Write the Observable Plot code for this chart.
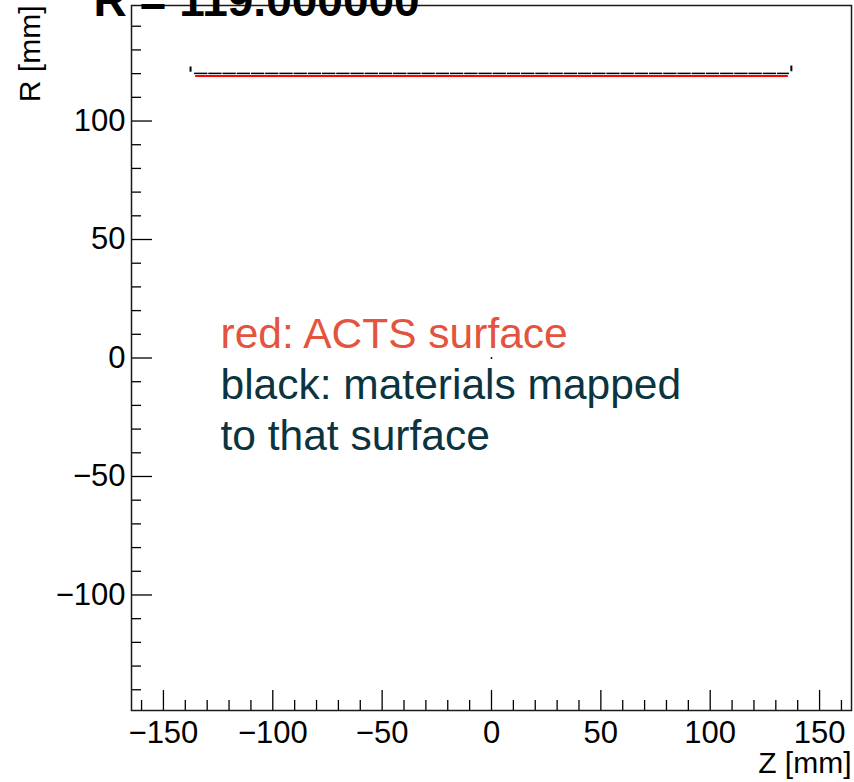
<!DOCTYPE html>
<html><head><meta charset="utf-8">
<script src="https://cdn.jsdelivr.net/npm/d3@7"></script>
<script src="https://cdn.jsdelivr.net/npm/@observablehq/plot@0.6"></script>
<style>body{margin:0;background:#fff;}</style>
</head><body><div id="chart"></div>
<script>
const title = "R = 119.000000";
const xLabel = "Z [mm]";
const yLabel = "R [mm]";
const legendLines = ["red: ACTS surface", "black: materials mapped", "to that surface"];

const xMajor = [-150, -100, -50, 0, 50, 100, 150];
const xMinor = [-160, -140, -130, -120, -110, -90, -80, -70, -60, -40, -30, -20, -10,
                10, 20, 30, 40, 60, 70, 80, 90, 110, 120, 130, 140, 160];
const yMajor = [-100, -50, 0, 50, 100];
const yMinor = [-140, -130, -120, -110, -90, -80, -70, -60, -40, -30, -20, -10,
                10, 20, 30, 40, 60, 70, 80, 90, 110, 120, 130, 140];

// ACTS surface (red): cylinder at R = 119
const surfaceZ = [-135.5, 135.5];
const surfaceR = [119, 119];

// mapped material (black): short segments along the surface
const matZ1 = [-136, -129.5, -123, -116.5, -110, -103.5, -97, -90.5, -84, -77.5, -71, -64.5, -58, -51.5, -45, -38.5, -32, -25.5, -19, -12.5, -6, 0.5, 7, 13.5, 20, 26.5, 33, 39.5, 46, 52.5, 59, 65.5, 72, 78.5, 85, 91.5, 98, 104.5, 111, 117.5, 124, 130.5];
const matZ2 = [-129.9, -123.4, -116.9, -110.4, -103.9, -97.4, -90.9, -84.4, -77.9, -71.4, -64.9, -58.4, -51.9, -45.4, -38.9, -32.4, -25.9, -19.4, -12.9, -6.4, 0.1, 6.6, 13.1, 19.6, 26.1, 32.6, 39.1, 45.6, 52.1, 58.6, 65.1, 71.6, 78.1, 84.6, 91.1, 97.6, 104.1, 110.6, 117.1, 123.6, 130.1, 136];
const matR = 120.1;
// isolated mapped points at the edges
const edgeZ = [-137.6, 137.1];
const edgeR1 = [120.6, 120.8];
const edgeR2 = [122.8, 123.2];
// stray point at the origin
const strayZ = [0];
const strayR = [0];

const segs = matZ1.map((z, i) => ({z1: z, z2: matZ2[i], r: matR}));
const edges = edgeZ.map((z, i) => ({z, r1: edgeR1[i], r2: edgeR2[i]}));
const surf = [{z1: surfaceZ[0], z2: surfaceZ[1], r: surfaceR[0]}];
const stray = strayZ.map((z, i) => ({z, r: strayR[i]}));

const font = "'Liberation Sans', Arial, Helvetica, sans-serif";
const fmt = d3.format("d");

const chart = Plot.plot({
  width: 854,
  height: 782,
  marginLeft: 131,
  marginRight: 3,
  marginTop: 5,
  marginBottom: 72,
  style: {fontFamily: font, background: "white", color: "black", overflow: "visible"},
  x: {domain: [-164.6, 164.6]},
  y: {domain: [-148.75, 148.75]},
  marks: [
    // ticks
    Plot.axisX({ticks: xMajor, tickSize: -20, tickFormat: () => "", label: null, strokeWidth: 1.3}),
    Plot.axisX({ticks: xMinor, tickSize: -10, tickFormat: () => "", label: null, strokeWidth: 1.3}),
    Plot.axisX({ticks: xMajor, tickSize: 0, tickPadding: 10, tickFormat: fmt, fontSize: 31, label: null}),
    Plot.axisY({ticks: yMajor, tickSize: -21, tickFormat: () => "", label: null, strokeWidth: 1.3}),
    Plot.axisY({ticks: yMinor, tickSize: -10, tickFormat: () => "", label: null, strokeWidth: 1.3}),
    Plot.axisY({ticks: yMajor, tickSize: 0, tickPadding: 6, tickFormat: fmt, fontSize: 31, label: null}),
    // data
    Plot.link(surf, {x1: "z1", x2: "z2", y1: "r", y2: "r", stroke: "#ff0000", strokeWidth: 2}),
    Plot.link(segs, {x1: "z1", x2: "z2", y1: "r", y2: "r", stroke: "black", strokeWidth: 1.5}),
    Plot.ruleX(edges, {x: "z", y1: "r1", y2: "r2", stroke: "black", strokeWidth: 2}),
    Plot.dot(stray, {x: "z", y: "r", r: 0.9, fill: "black"}),
    Plot.frame({stroke: "#1a1a1a", strokeWidth: 1.5}),
    // labels
    Plot.text([title], {frameAnchor: "top-left", dx: -38, dy: 10, text: d => d, textAnchor: "start", lineAnchor: "bottom", fontSize: 46, fontWeight: "bold", fill: "black"}),
    Plot.text([xLabel], {frameAnchor: "bottom-right", dx: 0, dy: 62, text: d => d, textAnchor: "end", lineAnchor: "bottom", fontSize: 30, fill: "black"}),
    Plot.text([yLabel], {frameAnchor: "top-left", dx: -92, dy: 0, rotate: -90, text: d => d, textAnchor: "end", lineAnchor: "bottom", fontSize: 30, fill: "black"}),
    Plot.text([legendLines[0]], {frameAnchor: "top-left", dx: 89, dy: 342, text: d => d, textAnchor: "start", lineAnchor: "bottom", fontSize: 42.5, fill: "#e4533d"}),
    Plot.text([legendLines[1]], {frameAnchor: "top-left", dx: 89, dy: 393, text: d => d, textAnchor: "start", lineAnchor: "bottom", fontSize: 42.5, fill: "#0a3440"}),
    Plot.text([legendLines[2]], {frameAnchor: "top-left", dx: 89, dy: 444, text: d => d, textAnchor: "start", lineAnchor: "bottom", fontSize: 42.5, fill: "#0a3440"})
  ]
});
document.getElementById("chart").appendChild(chart);
</script>
</body></html>
